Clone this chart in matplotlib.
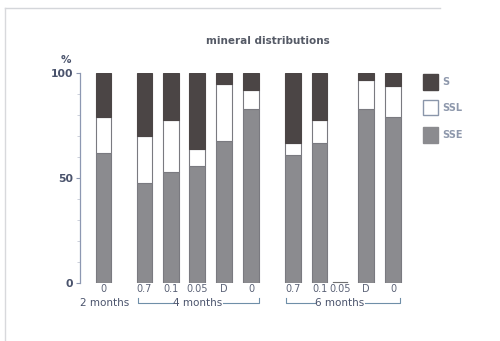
import matplotlib
matplotlib.use("Agg")
import matplotlib.pyplot as plt
from matplotlib.lines import Line2D

# Sample labels (concentration) and age group of each stacked bar
labels = ["0", "0.7", "0.1", "0.05", "D", "0", "0.7", "0.1", "0.05", "D", "0"]
groups = ["2 months", "4 months", "6 months"]

# Percentages of each mineral fraction per sample
sse = [62, 48, 53, 56, 68, 83, 61, 67, 0, 83, 79]
ssl = [17, 22, 25, 8, 27, 9, 6, 11, 0, 14, 15]
s = [21, 30, 22, 36, 5, 8, 33, 22, 0, 3, 6]

yticks = [0, 50, 100]
series_names = ["S", "SSL", "SSE"]

# Layout: bar centres in pixel-like x units of the axes
xpos = [103.5, 144.5, 171, 197, 224, 251, 293, 319.5, 340, 366, 393]
bar_w = 15.5

C_S = "#4b4545"
C_SSE = "#8b8b8f"
C_SSL = "#ffffff"
C_EDGE = "#7a7a80"
C_AXIS = "#8d98b2"
C_TXT = "#4a536c"
C_LIGHT = "#8e98ac"

fig = plt.figure(figsize=(5.0, 3.41), dpi=100)
fig.patch.set_facecolor("white")

W, H = 500, 341
x0, x1 = 80, 410
y0, y1 = 73.3, 283.3
ax = fig.add_axes([x0 / W, 1 - y1 / H, (x1 - x0) / W, (y1 - y0) / H])
ax.set_xlim(x0, x1)
ax.set_ylim(0, 100)
for sp in ["top", "right", "bottom"]:
    ax.spines[sp].set_visible(False)
ax.spines["left"].set_color(C_AXIS)
ax.spines["left"].set_linewidth(0.9)
ax.set_xticks([])
ax.set_yticks(yticks)
ax.set_yticks(range(10, 100, 10), minor=True)
ax.tick_params(axis="y", which="major", length=3, color=C_AXIS, width=0.8,
               labelsize=7.8, labelcolor=C_TXT, pad=2)
ax.tick_params(axis="y", which="minor", length=2, color="#c5cad6", width=0.6)
for t in ax.get_yticklabels():
    t.set_fontweight("bold")
    t.set_family("DejaVu Sans")

bottom_ssl = [a for a in sse]
bottom_s = [a + b for a, b in zip(sse, ssl)]
ax.bar(xpos, sse, width=bar_w, color=C_SSE, edgecolor=C_EDGE, linewidth=0.8)
ax.bar(xpos, ssl, width=bar_w, bottom=bottom_ssl, color=C_SSL,
       edgecolor=C_EDGE, linewidth=0.8)
ax.bar(xpos, s, width=bar_w, bottom=bottom_s, color=C_S,
       edgecolor=C_S, linewidth=0.8)

# Sample with no measurable fraction: a short baseline stroke
for xi, a, b, c in zip(xpos, sse, ssl, s):
    if a + b + c == 0:
        ax.plot([xi - 7, xi + 7], [0.6, 0.6], color="#707070", lw=0.8,
                clip_on=False)

# Sample labels under bars
for xi, lab in zip(xpos, labels):
    ax.text(xi, -2.8, lab, ha="center", va="center", fontsize=7,
            color="#5d6478", family="DejaVu Sans", clip_on=False)

# Group labels with brackets
ax.text(105, -9.6, groups[0], ha="center", va="center", fontsize=7.5,
        color=C_TXT, family="DejaVu Sans", clip_on=False)


def bracket(xa, xb, xc, text):
    y = -9.3
    tw = 25
    kw = dict(color="#6f8fa8", lw=0.8, clip_on=False)
    ax.add_line(Line2D([xa, xa, xc - tw], [-7.0, y, y], **kw))
    ax.add_line(Line2D([xc + tw, xb, xb], [y, y, -7.0], **kw))
    ax.text(xc, -9.6, text, ha="center", va="center", fontsize=7.5,
            color=C_TXT, family="DejaVu Sans", clip_on=False)


bracket(137.5, 259, 197.5, groups[1])
bracket(285.5, 400, 340, groups[2])

# Title and unit
ax.text(268, 115.4, "mineral distributions", ha="center", va="center",
        fontsize=7.5, fontweight="bold", color="#555a66",
        family="DejaVu Sans", clip_on=False)
ax.text(66, 106.3, "%", ha="center", va="center", fontsize=7.5,
        fontweight="bold", color=C_TXT, family="DejaVu Sans", clip_on=False)

# Legend drawn as boxes in figure pixels
leg_colors = [C_S, C_SSL, C_SSE]
leg_edges = [C_S, "#8a96aa", C_SSE]
leg_y = [74, 100, 127]
for name, col, ec, ly in zip(series_names, leg_colors, leg_edges, leg_y):
    fig.patches.append(plt.Rectangle((423 / W, 1 - (ly + 15.5) / H), 15 / W,
                                     15.5 / H, transform=fig.transFigure,
                                     facecolor=col, edgecolor=ec, lw=1.0))
    fig.text(442 / W, 1 - (ly + 8) / H, name, ha="left", va="center",
             fontsize=7, fontweight="bold", color=C_LIGHT,
             family="DejaVu Sans")

# Faint page frame
fig.lines.append(Line2D([5 / W, 440 / W], [1 - 7.5 / H, 1 - 7.5 / H],
                        transform=fig.transFigure, color="#d4d6da", lw=1.0))
fig.lines.append(Line2D([5 / W, 5 / W], [1 - 7.5 / H, 0],
                        transform=fig.transFigure, color="#d8d9dc", lw=1.0))

fig.savefig("out.png", dpi=100, facecolor="white")
